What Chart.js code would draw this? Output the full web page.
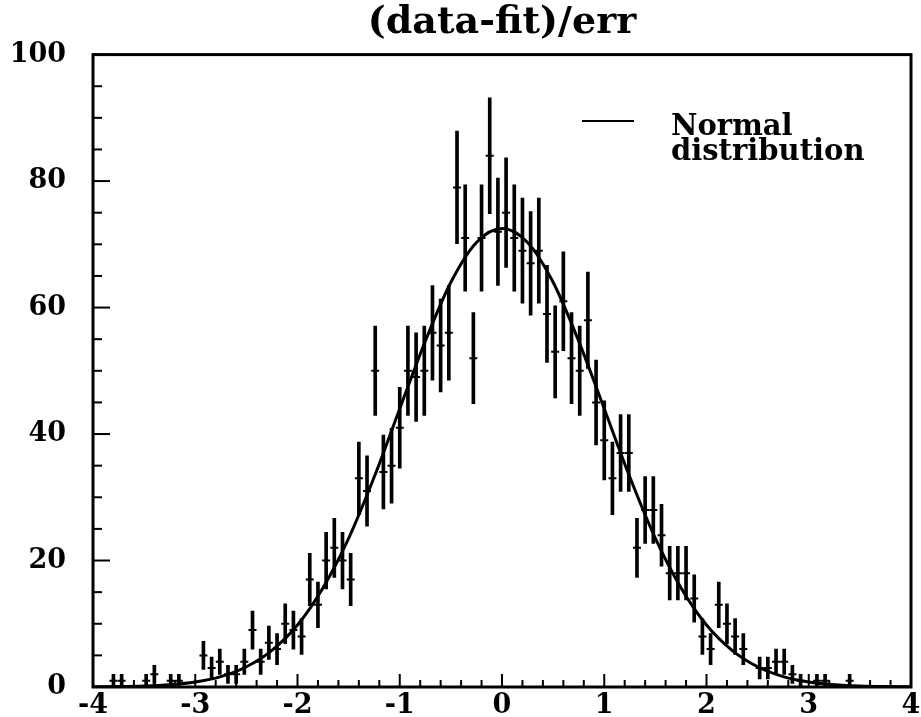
<!DOCTYPE html>
<html>
<head>
<meta charset="utf-8">
<title>(data-fit)/err</title>
<script src="https://cdn.jsdelivr.net/npm/chart.js@4.4.1/dist/chart.umd.min.js"></script>
<style>
    html, body { margin: 0; padding: 0; background: #fff; }
    canvas { display: block; }
</style>
</head>
<body>
<canvas id="pullChart" width="921" height="717"></canvas>
<script>
// Histogram of pulls, 100 bins of width 0.08 from -4 to 4
const binStart = -4;
const binWidth = 0.08;
const counts = [
    0, 0, 1, 1, 0, 0, 1, 2, 0, 1,
    1, 0, 0, 5, 3, 4, 2, 2, 4, 9,
    4, 7, 6, 10, 9, 8, 17, 13, 20, 22,
    20, 17, 33, 31, 50, 34, 35, 41, 50, 49,
    50, 56, 54, 56, 79, 71, 52, 71, 84, 72,
    75, 71, 69, 67, 69, 59, 53, 61, 52, 50,
    58, 45, 39, 33, 37, 37, 22, 28, 28, 24,
    18, 18, 18, 14, 8, 6, 13, 10, 8, 6,
    0, 3, 3, 4, 4, 2, 1, 0, 1, 1,
    0, 0, 1, 0, 0, 0, 0, 0, 0, 0
];

// Normal distribution curve
const curveX = [-4, -3.75, -3.5, -3.25, -3, -2.75, -2.5, -2.25, -2, -1.75, -1.5, -1.25, -1, -0.75, -0.5, -0.25, 0,
    0.25, 0.5, 0.75, 1, 1.25, 1.5, 1.75, 2, 2.25, 2.5, 2.75, 3, 3.25, 3.5, 3.75, 4];
const curveY = [0.02, 0.06, 0.16, 0.37, 0.8, 1.65, 3.2, 5.8, 9.8, 15.7, 23.5, 33.2, 44.0, 54.7, 64.0, 70.3, 72.5,
    70.3, 64.0, 54.7, 44.0, 33.2, 23.5, 15.7, 9.8, 5.8, 3.2, 1.65, 0.8, 0.37, 0.16, 0.06, 0.02];

// axis ticks
const xTicks = [-4, -3, -2, -1, 0, 1, 2, 3, 4];
const yTicks = [0, 20, 40, 60, 80, 100];

const legendLines = ['Normal', 'distribution'];

const serif = 'DejaVu Serif';

// points with their poisson errors, empty bins are not drawn
const filled = [];
counts.forEach((c, i) => {
    if (c > 0) filled.push({ x: binStart + binWidth * (i + 0.5), c: c });
});
const errorBars = filled.map(p => ({ x: p.x, y: [p.c - Math.sqrt(p.c), p.c + Math.sqrt(p.c)] }));
const centres = filled.map(p => ({ x: p.x, y: p.c }));
const curve = curveX.map((x, i) => ({ x: x, y: curveY[i] }));

// frame, inward ticks and the legend box, ROOT style
const rootFrame = {
    id: 'rootFrame',
    afterDraw(chart) {
        const { ctx, chartArea, scales } = chart;
        const { left, right, top, bottom } = chartArea;
        ctx.save();
        ctx.strokeStyle = '#000';

        // minor + major ticks on x
        ctx.lineWidth = 2;
        for (let k = 0; k <= 40; k++) {
            const v = xTicks[0] + k * 0.2;
            const px = scales.x.getPixelForValue(v);
            const len = k % 5 === 0 ? 13 : 7;
            ctx.beginPath();
            ctx.moveTo(px, bottom);
            ctx.lineTo(px, bottom - len);
            ctx.stroke();
        }
        // minor + major ticks on y
        for (let v = 0; v <= 100; v += 5) {
            const py = scales.y.getPixelForValue(v);
            const len = yTicks.includes(v) ? 17 : 9;
            ctx.beginPath();
            ctx.moveTo(left, py);
            ctx.lineTo(left + len, py);
            ctx.stroke();
        }

        ctx.lineWidth = 3;
        ctx.strokeRect(left, top, right - left, bottom - top);

        // legend
        ctx.lineWidth = 2;
        ctx.beginPath();
        ctx.moveTo(582, 121);
        ctx.lineTo(634, 121);
        ctx.stroke();
        ctx.fillStyle = '#000';
        ctx.font = 'bold 29px "' + serif + '"';
        ctx.textAlign = 'left';
        ctx.textBaseline = 'alphabetic';
        ctx.fillText(legendLines[0], 671, 135);
        ctx.fillText(legendLines[1], 671, 160);
        ctx.restore();
    }
};

const ctx = document.getElementById('pullChart').getContext('2d');
const pullChart = new Chart(ctx, {
    type: 'bar',
    data: {
        datasets: [
            {
                type: 'line',
                label: 'Normal distribution',
                data: curve,
                borderColor: '#000',
                borderWidth: 3,
                pointRadius: 0,
                cubicInterpolationMode: 'monotone',
                fill: false
            },
            {
                type: 'bar',
                label: 'errors',
                data: errorBars,
                backgroundColor: '#000',
                borderWidth: 0,
                barThickness: 3
            },
            {
                type: 'scatter',
                label: 'data',
                data: centres,
                pointStyle: 'line',
                pointRadius: 4,
                borderWidth: 2,
                borderColor: '#000',
                backgroundColor: '#000'
            }
        ]
    },
    options: {
        responsive: false,
        animation: false,
        layout: { padding: { left: 0, right: 10, top: 0, bottom: 0 } },
        plugins: {
            legend: { display: false },
            tooltip: { enabled: false },
            title: {
                display: true,
                text: '(data-fit)/err',
                fullSize: false,
                color: '#000',
                font: { family: serif, weight: 'bold', size: 38, lineHeight: 1.2 },
                padding: { top: 0, bottom: 9 }
            }
        },
        scales: {
            x: {
                type: 'linear',
                min: -4,
                max: 4,
                offset: false,
                grid: { display: false, drawTicks: false },
                border: { display: false },
                afterBuildTicks: axis => { axis.ticks = xTicks.map(v => ({ value: v })); },
                afterFit: axis => {
                    axis.height = 30;
                    axis.paddingLeft = 0;
                    axis.paddingRight = 0;
                },
                ticks: {
                    color: '#000',
                    padding: 5,
                    maxRotation: 0,
                    font: { family: serif, weight: 'bold', size: 27, lineHeight: 1.0 }
                }
            },
            y: {
                min: 0,
                max: 100,
                grid: { display: false, drawTicks: false },
                border: { display: false },
                afterBuildTicks: axis => { axis.ticks = yTicks.map(v => ({ value: v })); },
                afterFit: axis => {
                    axis.width = 93;
                    axis.paddingTop = 0;
                    axis.paddingBottom = 0;
                },
                ticks: {
                    color: '#000',
                    padding: 27,
                    font: { family: serif, weight: 'bold', size: 27 }
                }
            }
        }
    },
    plugins: [rootFrame]
});
</script>
</body>
</html>
